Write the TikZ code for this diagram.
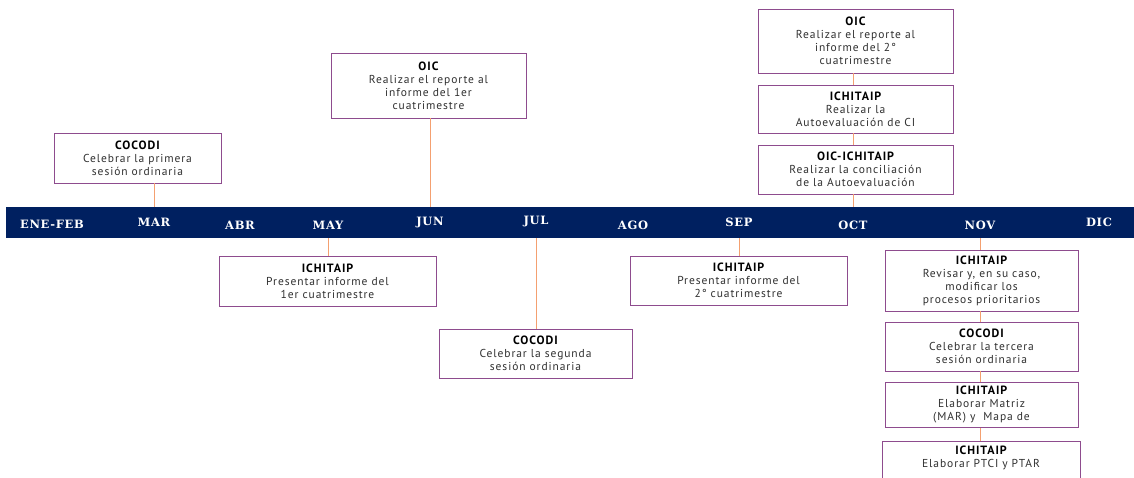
\documentclass[tikz,border=0pt]{standalone}
\usepackage{fontspec}
\setmainfont{PT Sans}[LetterSpace=8]
\newfontfamily\mesfont{DejaVu Serif}[LetterSpace=6]
\usetikzlibrary{positioning}
\definecolor{barra}{HTML}{002060}
\definecolor{borde}{HTML}{8E4C8E}
\definecolor{naranja}{HTML}{F4A070}
\definecolor{texto}{HTML}{303030}
\tikzset{
	caja/.style={draw=borde,thick,fill=white,align=center,text=texto,inner sep=2pt,
		font=\fontsize{11.5}{13}\selectfont},
	mes/.style={text=white,font=\mesfont\bfseries\fontsize{11.5}{12}\selectfont},
	enlace/.style={draw=naranja,thick}
}
\newcommand{\titulo}[1]{{\bfseries\color{black}\fontsize{12}{13}\selectfont#1}}

\begin{document}
\begin{tikzpicture}[x=1pt,y=-1pt]
	\clip (0,0) rectangle (1134,478);
	\useasboundingbox (0,0) rectangle (1134,478);
	% la barra de los meses
	\node[fill=barra,minimum width=1128pt,minimum height=31pt,inner sep=0pt,anchor=north west] (linea) at (6,207) {};
	\node[mes] (enefeb) at (52,224) {ENE-FEB};
	\node[mes] (mar) at (154,222) {MAR};
	\node[mes] (abr) at (240,225) {ABR};
	\node[mes] (may) at (328,225) {MAY};
	\node[mes] (jun) at (430,223) {JUN};
	\node[mes] (jul) at (536,222) {JUL};
	\node[mes] (ago) at (633,225) {AGO};
	\node[mes] (sep) at (739,222) {SEP};
	\node[mes] (oct) at (853,225) {OCT};
	\node[mes] (nov) at (980,225) {NOV};
	\node[mes] (dic) at (1099,222) {DIC};

	% arriba de la barra
	\node[caja,minimum width=167pt,minimum height=50pt] (cocodiA) at (137.5,158) {\titulo{COCODI}\\Celebrar la primera\\sesión ordinaria};
	\node[caja,minimum width=195pt,minimum height=65pt] (oicA) at (428.5,85.5) {\titulo{OIC}\\Realizar el reporte al\\informe del 1er\\cuatrimestre};
	\node[caja,minimum width=195pt,minimum height=64pt] (oicB) at (855.5,41) {\titulo{OIC}\\Realizar el reporte al\\informe del 2°\\cuatrimestre};
	\node[caja,minimum width=195pt,minimum height=48pt] (autoeval) at (855.5,109) {\titulo{ICHITAIP}\\Realizar la\\Autoevaluación de CI};
	\node[caja,minimum width=195pt,minimum height=49pt] (concilia) at (855.5,169.5) {\titulo{OIC-ICHITAIP}\\Realizar la conciliación\\de la Autoevaluación};

	% abajo de la barra
	\node[caja,minimum width=217pt,minimum height=50pt] (presA) at (327.5,281) {\titulo{ICHITAIP}\\Presentar informe del\\1er cuatrimestre};
	\node[caja,minimum width=193pt,minimum height=49pt] (cocodiB) at (535.5,353.5) {\titulo{COCODI}\\Celebrar la segunda\\sesión ordinaria};
	\node[caja,minimum width=217pt,minimum height=49pt] (presB) at (738.5,280.5) {\titulo{ICHITAIP}\\Presentar informe del\\2° cuatrimestre};
	\node[caja,minimum width=193pt,minimum height=61pt] (procesos) at (981.5,280.5) {\titulo{ICHITAIP}\\Revisar y, en su caso,\\modificar los\\procesos prioritarios};
	\node[caja,minimum width=193pt,minimum height=49pt] (cocodiC) at (981.5,346.5) {\titulo{COCODI}\\Celebrar la tercera\\sesión ordinaria};
	\node[caja,minimum width=193pt,minimum height=45pt,anchor=north] (matriz) at (981.5,382) {\titulo{ICHITAIP}\\Elaborar Matriz\\(MAR) y\ \ Mapa de};
	\node[caja,minimum width=198pt,minimum height=60pt,anchor=north,text depth=30pt] (ptci) at (981,441) {\titulo{ICHITAIP}\\Elaborar PTCI y PTAR};

	% conectores
	\draw[enlace] (cocodiA.south -| mar) -- (linea.north -| mar);
	\draw[enlace] (oicA.south -| jun) -- (linea.north -| jun);
	\draw[enlace] (oicB.south -| oct) -- (autoeval.north -| oct);
	\draw[enlace] (autoeval.south -| oct) -- (concilia.north -| oct);
	\draw[enlace] (concilia.south -| oct) -- (linea.north -| oct);
	\draw[enlace] (linea.south -| may) -- (presA.north -| may);
	\draw[enlace] (linea.south -| jul) -- (cocodiB.north -| jul);
	\draw[enlace] (linea.south -| sep) -- (presB.north -| sep);
	\draw[enlace] (linea.south -| nov) -- (procesos.north -| nov);
	\draw[enlace] (procesos.south -| nov) -- (cocodiC.north -| nov);
	\draw[enlace] (cocodiC.south -| nov) -- (matriz.north -| nov);
	\draw[enlace] (matriz.south -| nov) -- (ptci.north -| nov);
\end{tikzpicture}
\end{document}
